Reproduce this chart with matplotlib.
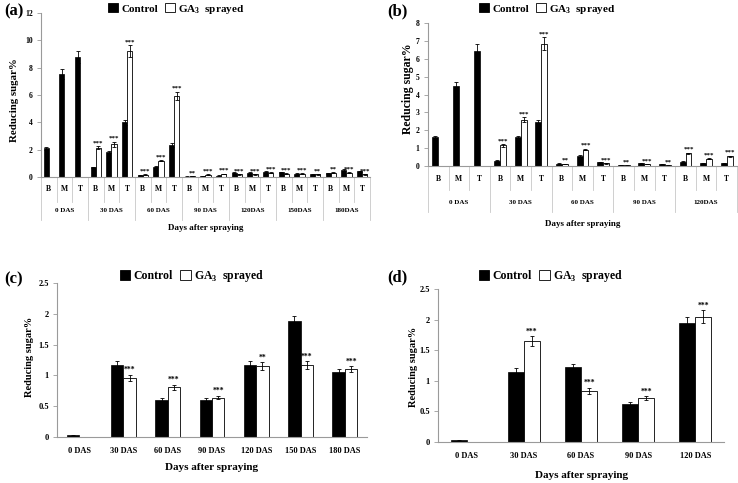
import numpy as np
import matplotlib
matplotlib.use("Agg")
import matplotlib.pyplot as plt
from matplotlib.patches import Patch

plt.rcParams['font.family'] = ['Liberation Serif', 'DejaVu Serif']
plt.rcParams['font.weight'] = 'bold'

nan = np.nan

# ---------------- data ----------------
parts = ['B', 'M', 'T']

a_groups = ['0 DAS', '30 DAS', '60 DAS', '90 DAS', '120DAS', '150DAS', '180DAS']
a_control = [2.1, 7.55, 8.8, 0.7, 1.85, 4.0, 0.12, 0.75, 2.35, 0.03, 0.08, 0.1,
             0.3, 0.3, 0.4, 0.35, 0.25, 0.2, 0.28, 0.5, 0.42]
a_ga = [nan, nan, nan, 2.15, 2.4, 9.2, 0.18, 1.2, 5.95, 0.05, 0.18, 0.22,
        0.2, 0.2, 0.3, 0.25, 0.25, 0.2, 0.3, 0.3, 0.2]
a_ctrl_err = [0.1, 0.35, 0.45, 0.05, 0.08, 0.2, 0.02, 0.05, 0.12, 0.01, 0.01, 0.02,
              0.03, 0.03, 0.04, 0.03, 0.02, 0.02, 0.03, 0.05, 0.04]
a_ga_err = [nan, nan, nan, 0.12, 0.18, 0.45, 0.02, 0.06, 0.3, 0.01, 0.02, 0.02,
            0.02, 0.02, 0.03, 0.02, 0.02, 0.02, 0.03, 0.03, 0.02]
a_sig = ['', '', '', '***', '***', '***', '***', '***', '***', '**', '***', '***',
         '***', '***', '***', '***', '***', '**', '**', '***', '***']

b_groups = ['0 DAS', '30 DAS', '60 DAS', '90 DAS', '120DAS']
b_control = [1.6, 4.5, 6.45, 0.3, 1.6, 2.45, 0.13, 0.55, 0.2, 0.07, 0.15, 0.1,
             0.25, 0.15, 0.15]
b_ga = [nan, nan, nan, 1.15, 2.6, 6.85, 0.12, 0.92, 0.15, 0.03, 0.1, 0.03,
        0.7, 0.4, 0.55]
b_ctrl_err = [0.08, 0.22, 0.35, 0.03, 0.1, 0.12, 0.02, 0.04, 0.03, 0.01, 0.02, 0.02,
              0.03, 0.03, 0.02]
b_ga_err = [nan, nan, nan, 0.07, 0.15, 0.35, 0.01, 0.05, 0.02, 0.01, 0.01, 0.01,
            0.05, 0.03, 0.03]
b_sig = ['', '', '', '***', '***', '***', '**', '***', '***', '**', '***', '**',
         '***', '***', '***']

c_groups = ['0 DAS', '30 DAS', '60 DAS', '90 DAS', '120 DAS', '150 DAS', '180 DAS']
c_control = [0.03, 1.17, 0.6, 0.6, 1.17, 1.88, 1.06]
c_ga = [nan, 0.96, 0.81, 0.64, 1.15, 1.17, 1.1]
c_ctrl_err = [0.01, 0.06, 0.03, 0.03, 0.06, 0.08, 0.05]
c_ga_err = [nan, 0.05, 0.04, 0.03, 0.06, 0.06, 0.05]
c_sig = ['', '***', '***', '***', '**', '***', '***']

d_groups = ['0 DAS', '30 DAS', '60 DAS', '90 DAS', '120 DAS']
d_control = [0.03, 1.15, 1.22, 0.62, 1.95]
d_ga = [nan, 1.65, 0.84, 0.72, 2.05]
d_ctrl_err = [0.01, 0.06, 0.06, 0.03, 0.1]
d_ga_err = [nan, 0.08, 0.05, 0.03, 0.1]
d_sig = ['', '***', '***', '***', '***']

# ---------------- figure ----------------
W, H = 738, 483
fig = plt.figure(figsize=(W / 100, H / 100), dpi=100)
GRAY = '#9a9a9a'


def add_ax(l, r, top, bottom):
    return fig.add_axes([l / W, 1 - bottom / H, (r - l) / W, (bottom - top) / H])


def style(ax, ymax, step, tick_fs, fmt=None):
    for s in ['top', 'right']:
        ax.spines[s].set_visible(False)
    for s in ['left', 'bottom']:
        ax.spines[s].set_color(GRAY)
        ax.spines[s].set_linewidth(0.8)
    ax.set_ylim(0, ymax)
    ticks = np.arange(0, ymax + step / 2, step)
    ax.set_yticks(ticks)
    if fmt:
        ax.set_yticklabels([fmt(t) for t in ticks])
    ax.tick_params(axis='y', length=3, width=0.6, color=GRAY, labelsize=tick_fs, pad=3)
    ax.tick_params(axis='x', length=0, labelbottom=False)
    for lab in ax.get_yticklabels():
        lab.set_fontweight('bold')


def bars(ax, ctrl, ga, cerr, gerr, sig, w, star_fs, star_off):
    x = np.arange(len(ctrl))
    ax.bar(x - w / 2, ctrl, w, color='black', edgecolor='black', linewidth=0.5,
           yerr=cerr, error_kw=dict(ecolor='black', elinewidth=0.6, capsize=1.5, capthick=0.6))
    ax.bar(x + w / 2, ga, w, color='white', edgecolor='black', linewidth=0.6,
           yerr=gerr, error_kw=dict(ecolor='black', elinewidth=0.6, capsize=1.5, capthick=0.6))
    for i, s in enumerate(sig):
        if s:
            top = ga[i] + gerr[i]
            ax.text(x[i] + w / 2, top + star_off, s, ha='center', va='bottom',
                    fontsize=star_fs, fontweight='bold')
    ax.set_xlim(-0.5, len(ctrl) - 0.5)


def multilevel(ax, groups, hpx, lab_px, sep_px, grp_px, gsep_px, fs1, fs2):
    trans = ax.get_xaxis_transform()
    n = len(groups) * 3
    f = lambda p: -p / hpx
    for i in range(n):
        ax.text(i, f(lab_px), parts[i % 3], ha='center', va='center', transform=trans,
                fontsize=fs1, fontweight='bold')
    for k in range(n + 1):
        xb = k - 0.5
        end = gsep_px if k % 3 == 0 else sep_px
        ax.plot([xb, xb], [0, f(end)], transform=trans, clip_on=False, color='#c8c8c8', lw=0.6)
    for g, name in enumerate(groups):
        ax.text(3 * g + 1, f(grp_px), name, ha='center', va='center', transform=trans,
                fontsize=fs2, fontweight='bold')


def legend_at(cx, cy, fs):
    handles = [Patch(facecolor='black', edgecolor='black', linewidth=0.6),
               Patch(facecolor='white', edgecolor='black', linewidth=0.6)]
    fig.legend(handles, ['Control', r'GA$_{\mathregular{3}}$  sprayed'], loc='center',
               bbox_to_anchor=(cx / W, 1 - cy / H), ncol=2, frameon=False,
               prop=dict(family='Liberation Serif', weight='bold', size=fs),
               handlelength=0.9, handleheight=0.9, handletextpad=0.3, columnspacing=0.6,
               borderpad=0, borderaxespad=0)


def ftext(x, y, s, fs, rot=0):
    fig.text(x / W, 1 - y / H, s, ha='center', va='center', fontsize=fs,
             fontweight='bold', rotation=rot)


def fmt_c(t):
    return ('%g' % t)

# ---- (a) ----
axa = add_ax(41, 370, 13, 177)
style(axa, 12, 2, 5.5)
bars(axa, a_control, a_ga, a_ctrl_err, a_ga_err, a_sig, 0.32, 5, 0.05)
multilevel(axa, a_groups, 164, 12, 25, 34, 43, 5.5, 5)
legend_at(176, 9, 8)
ftext(14, 11, '(a)', 12)
ftext(15, 100, 'Reducing sugar%', 7.8, 90)
ftext(206, 228, 'Days after spraying', 6.5)

# ---- (b) ----
axb = add_ax(428, 737, 23, 166)
style(axb, 8, 1, 5.5)
bars(axb, b_control, b_ga, b_ctrl_err, b_ga_err, b_sig, 0.29, 5, 0.04)
multilevel(axb, b_groups, 143, 13, 24, 37, 46, 5.5, 5)
legend_at(547, 9, 8)
ftext(397, 11, '(b)', 12)
ftext(408, 89, 'Reducing sugar%', 8.5, 90)
ftext(583, 224, 'Days after spraying', 6.5)

# ---- (c) ----
axc = add_ax(57, 367, 283, 437)
style(axc, 2.5, 0.5, 6, fmt_c)
bars(axc, c_control, c_ga, c_ctrl_err, c_ga_err, c_sig, 0.28, 5.5, 0.01)
xc = np.arange(len(c_groups))
axc.set_xticks(xc)
axc.set_xticklabels(c_groups)
axc.tick_params(axis='x', labelbottom=True, labelsize=6, pad=7)
for lab in axc.get_xticklabels():
    lab.set_fontweight('bold')
legend_at(192, 276, 8.5)
ftext(14, 279, '(c)', 12)
ftext(30, 357, 'Reducing sugar%', 7.5, 90)
ftext(212, 468, 'Days after spraying', 8)

# ---- (d) ----
axd = add_ax(438, 724, 289, 442)
style(axd, 2.5, 0.5, 6, fmt_c)
bars(axd, d_control, d_ga, d_ctrl_err, d_ga_err, d_sig, 0.28, 5.5, 0.01)
xd = np.arange(len(d_groups))
axd.set_xticks(xd)
axd.set_xticklabels(d_groups)
axd.tick_params(axis='x', labelbottom=True, labelsize=6, pad=7)
for lab in axd.get_xticklabels():
    lab.set_fontweight('bold')
legend_at(551, 276, 8.5)
ftext(397, 277, '(d)', 12)
ftext(413, 367, 'Reducing sugar%', 7.5, 90)
ftext(582, 475, 'Days after spraying', 8)

fig.savefig('out.png', dpi=100)
